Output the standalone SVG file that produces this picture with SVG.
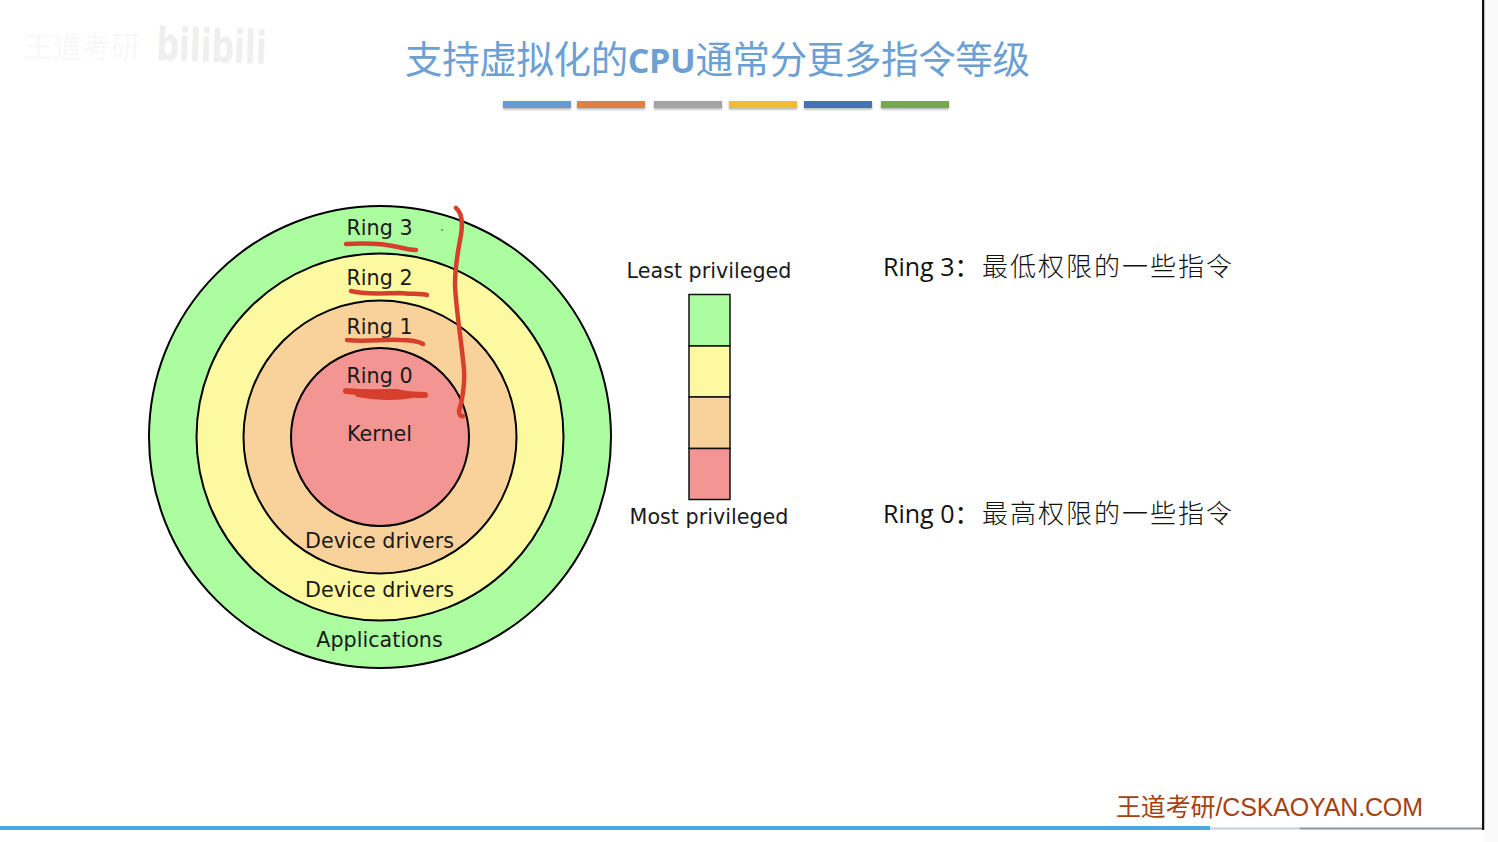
<svg xmlns="http://www.w3.org/2000/svg" width="1498" height="842" viewBox="0 0 1498 842">
<style>
.r{stroke:#000;stroke-width:2}
.d{font-family:"DejaVu Sans",sans-serif;font-size:20.700px;fill:#1a1a1a;text-anchor:middle}
.s{fill:none;stroke:#d63f2c;stroke-linecap:round;stroke-linejoin:round}
.t{font-family:"Open Sans","Noto Sans","Noto Sans CJK SC",sans-serif;font-size:25px;fill:#111}
.c{font-family:"Noto Sans CJK SC",sans-serif;font-size:26px;font-weight:300;fill:#111}
.bar{filter:url(#sh)}
</style>
<defs><filter id="sh" x="-10%" y="-50%" width="120%" height="220%"><feDropShadow dx="0" dy="1.500" stdDeviation="1.200" flood-color="#000" flood-opacity=".3"/></filter></defs>
<rect width="1498" height="842" fill="#fff"/>
<g id="watermark">
<text x="24" y="58" font-family="'Noto Sans CJK SC',sans-serif" font-size="29" fill="#f8f8f8">王道考研</text>
<text x="156" y="60" font-family="'DejaVu Sans',sans-serif" font-weight="700" font-size="46" fill="#efefef" textLength="110" lengthAdjust="spacingAndGlyphs" transform="rotate(2 156 60)">bilibili</text>
</g>
<g id="title">
<text x="405" y="73" font-family="'Noto Sans CJK SC',sans-serif" font-size="37.500" fill="#6c9fd2" textLength="625" lengthAdjust="spacing">支持虚拟化的<tspan font-family="'Open Sans','Noto Sans',sans-serif" font-weight="700" font-size="34">CPU</tspan>通常分更多指令等级</text>
<rect class="bar" x="503" y="101" width="68" height="7" fill="#659bd2"/>
<rect class="bar" x="577" y="101" width="68" height="7" fill="#dd8040"/>
<rect class="bar" x="654" y="101" width="68" height="7" fill="#a3a3a3"/>
<rect class="bar" x="729" y="101" width="68" height="7" fill="#f1bb37"/>
<rect class="bar" x="804" y="101" width="68" height="7" fill="#4a6fbb"/>
<rect class="bar" x="881" y="101" width="68" height="7" fill="#76a94e"/>
</g>
<g id="ring3"><circle class="r" cx="380" cy="437" r="231" fill="#abfd9f"/><text class="d" x="379.500" y="235">Ring 3</text><text class="d" x="379.500" y="647">Applications</text></g>
<g id="ring2"><circle class="r" cx="380" cy="437" r="183.500" fill="#fdf9a0"/><text class="d" x="379.500" y="285">Ring 2</text><text class="d" x="379.500" y="597">Device drivers</text></g>
<g id="ring1"><circle class="r" cx="380" cy="437" r="136.500" fill="#f8d29a"/><text class="d" x="379.500" y="334">Ring 1</text><text class="d" x="379.500" y="548">Device drivers</text></g>
<g id="ring0"><circle class="r" cx="380" cy="437" r="89" fill="#f29593"/><text class="d" x="379.500" y="383">Ring 0</text><text class="d" x="379.500" y="441">Kernel</text></g>
<g id="scale">
<rect x="689" y="294.500" width="41" height="51.500" fill="#abfd9f" stroke="#111" stroke-width="1.500"/>
<rect x="689" y="346" width="41" height="51" fill="#fdf9a0" stroke="#111" stroke-width="1.500"/>
<rect x="689" y="397" width="41" height="51.500" fill="#f8d29a" stroke="#111" stroke-width="1.500"/>
<rect x="689" y="448.500" width="41" height="51" fill="#f29593" stroke="#111" stroke-width="1.500"/>
<text class="d" x="709" y="278">Least privileged</text>
<text class="d" x="709" y="524">Most privileged</text>
</g>
<g id="annotations">
<path class="s" stroke-width="4.500" d="M346 244C365 243 385 244 398 247C406 249 413 250 416 250"/>
<path class="s" stroke-width="4.500" d="M351 291C365 295 385 293 400 293C412 294 422 294 427 295"/>
<path class="s" stroke-width="4.500" d="M347 340C365 342 385 339 400 340C410 340 418 341 423 344"/>
<path class="s" stroke-width="6" d="M346 391C365 393 385 392 396 392C405 394 415 395 425 395M358 394C375 397 395 398 412 395"/>
<path class="s" stroke-width="4.500" d="M456 208C461 212 463 222 461 235C458 250 455 270 455 285C456 310 462 345 464 370C465 385 462 402 459 411C459 415 461 417 463 416"/>
<circle cx="442" cy="230" r="1" fill="#a86a3a"/>
</g>
<g id="notes">
<text class="t" x="883" y="276">Ring 3：</text><text class="c" x="982" y="276" textLength="250">最低权限的一些指令</text>
<text class="t" x="883" y="523">Ring 0：</text><text class="c" x="982" y="523" textLength="250">最高权限的一些指令</text>
</g>
<g id="footer">
<text x="1116" y="816" font-family="'Liberation Sans','Noto Sans CJK SC',sans-serif" font-size="25" fill="#a5420f" textLength="307">王道考研/CSKAOYAN.COM</text>
<rect x="0" y="826" width="1210" height="4" fill="#4aa8e4"/>
<rect x="1210" y="827.500" width="90" height="2" fill="#c9cdd6"/>
<rect x="1300" y="827.500" width="183" height="2" fill="#8f929b"/>
<rect x="1482" y="0" width="2.500" height="830" fill="#111"/>
<rect x="1484.500" y="0" width="13.500" height="842" fill="#fafafa"/>
</g>
</svg>
